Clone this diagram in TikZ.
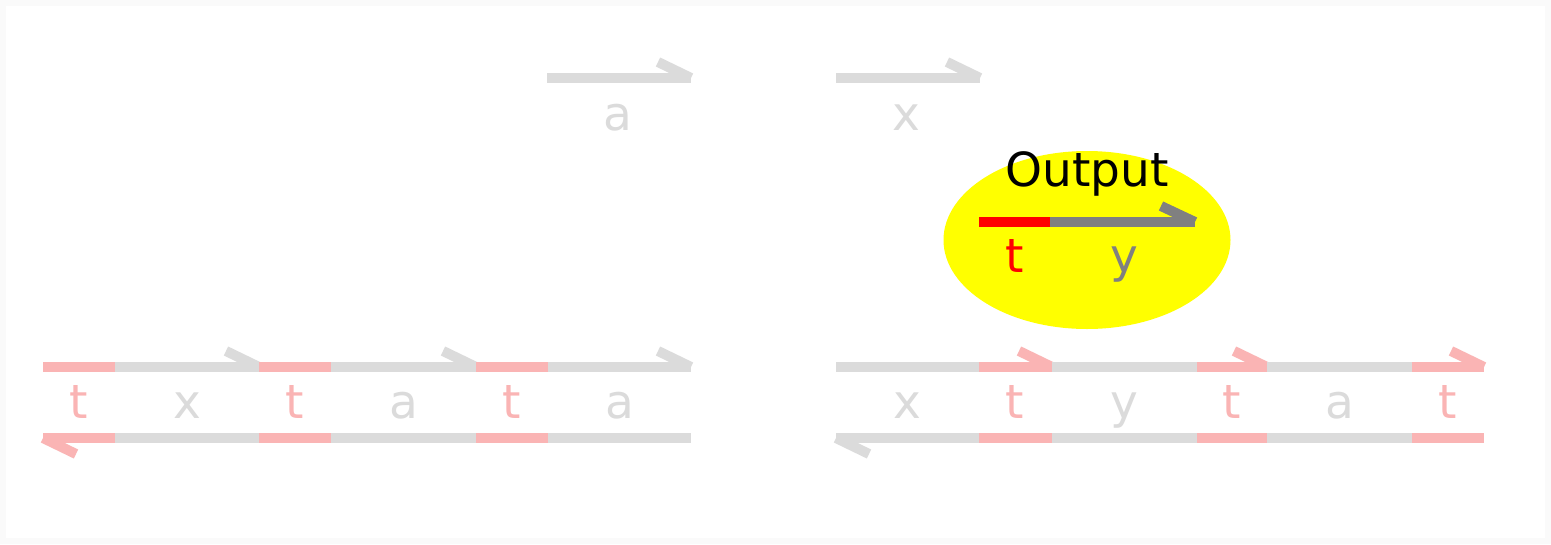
\documentclass[tikz,border=0pt]{standalone}
\usepackage{fontspec}
\setmainfont{DejaVu Sans}
\usetikzlibrary{shapes.geometric}
\definecolor{fgray}{gray}{0.86}
\definecolor{fred}{RGB}{250,180,180}
\definecolor{pureyellow}{RGB}{255,255,0}
\definecolor{midgray}{RGB}{128,128,128}
\definecolor{purered}{RGB}{255,0,0}
\tikzset{
  bar/.style={line width=10pt, line cap=butt},
  lbl/.style={font=\fontsize{47}{52}\selectfont, anchor=base, inner sep=0pt},
  flbl/.style={lbl, text=fgray},
  rlbl/.style={lbl, text=fred},
}
\begin{document}
\begin{tikzpicture}[x=1pt,y=-1pt]
\useasboundingbox (0,0) rectangle (1551,544);
\fill[gray!4] (0,0) rectangle (1551,544);
\fill[white] (6,6) rectangle (1545,538);

% top row
\coordinate (a0) at (547,78); \coordinate (a1) at (691,78);
\draw[bar,fgray] (a0) -- (a1);
\draw[bar,fgray] (a1) -- ++(-33,-16);
\node[flbl] (la) at (618,130) {a};
\coordinate (x0) at (836,78); \coordinate (x1) at (980,78);
\draw[bar,fgray] (x0) -- (x1);
\draw[bar,fgray] (x1) -- ++(-33,-16);
\node[flbl] (lx) at (906,130) {x};

% output ellipse
\node[ellipse, fill=pureyellow, minimum width=287pt, minimum height=178pt, inner sep=0pt] (out) at (1087,240) {};
\node[lbl, text=black, font=\fontsize{47}{52}\selectfont] (outt) at (1087,186) {Output};
\coordinate (o0) at (979,222); \coordinate (o1) at (1050,222); \coordinate (o2) at (1195,222);
\draw[bar,purered] (o0) -- (o1);
\draw[bar,midgray] (o1) -- (o2);
\draw[bar,midgray] (o2) -- ++(-34,-16);
\node[lbl, text=purered] (ot) at (1015,272) {t};
\node[lbl, text=midgray] (oy) at (1124,272) {y};

% bottom left row
\foreach \i/\xa/\xb/\xc in {1/43/115/259, 2/259/331/476, 3/476/548/691} {
  \coordinate (lt\i a) at (\xa,367); \coordinate (lt\i b) at (\xb,367); \coordinate (lt\i c) at (\xc,367);
  \draw[bar,fred] (lt\i a) -- (lt\i b);
  \draw[bar,fgray] (lt\i b) -- (lt\i c);
  \draw[bar,fgray] (lt\i c) -- ++(-33,-16);
  \coordinate (lb\i a) at (\xa,438); \coordinate (lb\i b) at (\xb,438); \coordinate (lb\i c) at (\xc,438);
  \draw[bar,fred] (lb\i a) -- (lb\i b);
  \draw[bar,fgray] (lb\i b) -- (lb\i c);
}
\draw[bar,fred] (lb1a) -- ++(33,16);
\node[rlbl] (l1) at (79,418) {t};
\node[flbl] (l2) at (187,418) {x};
\node[rlbl] (l3) at (295,418) {t};
\node[flbl] (l4) at (404,418) {a};
\node[rlbl] (l5) at (512,418) {t};
\node[flbl] (l6) at (620,418) {a};

% bottom right row
\foreach \i/\xa/\xb/\xc in {1/836/979/1052, 2/1052/1197/1267, 3/1267/1412/1484} {
  \coordinate (rt\i a) at (\xa,367); \coordinate (rt\i b) at (\xb,367); \coordinate (rt\i c) at (\xc,367);
  \draw[bar,fgray] (rt\i a) -- (rt\i b);
  \draw[bar,fred] (rt\i b) -- (rt\i c);
  \draw[bar,fred] (rt\i c) -- ++(-33,-16);
  \coordinate (rb\i a) at (\xa,438); \coordinate (rb\i b) at (\xb,438); \coordinate (rb\i c) at (\xc,438);
  \draw[bar,fgray] (rb\i a) -- (rb\i b);
  \draw[bar,fred] (rb\i b) -- (rb\i c);
}
\draw[bar,fgray] (rb1a) -- ++(33,16);
\node[flbl] (r1) at (907,418) {x};
\node[rlbl] (r2) at (1015,418) {t};
\node[flbl] (r3) at (1124,418) {y};
\node[rlbl] (r4) at (1232,418) {t};
\node[flbl] (r5) at (1340,418) {a};
\node[rlbl] (r6) at (1448,418) {t};
\end{tikzpicture}
\end{document}
